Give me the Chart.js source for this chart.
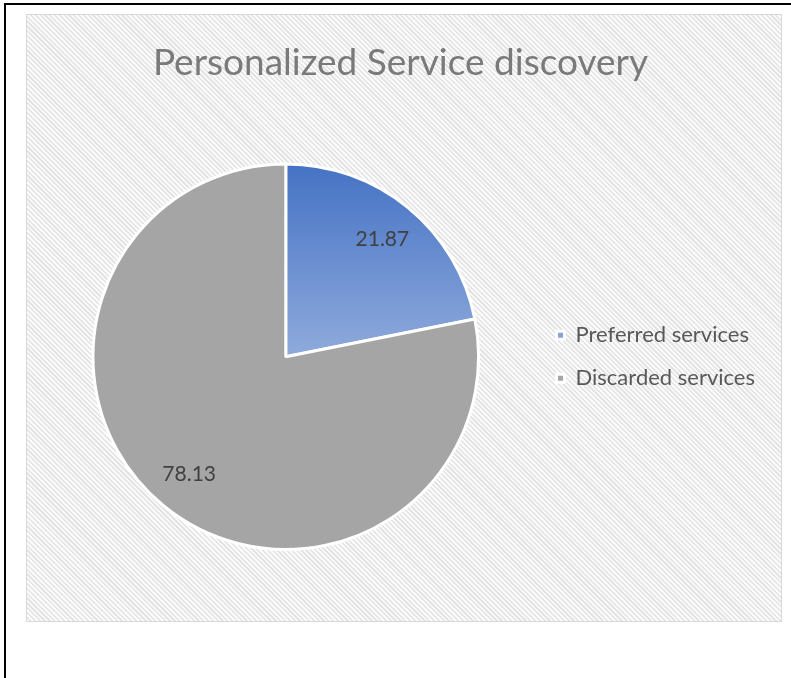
<!DOCTYPE html>
<html>
<head>
<meta charset="utf-8">
<script src="https://cdn.jsdelivr.net/npm/chart.js@4/dist/chart.umd.min.js"></script>
<style>
  html, body { margin: 0; padding: 0; background: #fff; }
  body { width: 791px; height: 678px; position: relative; overflow: hidden; }
  #frame {
    position: absolute; left: 4px; top: 3px; right: -10px; bottom: -10px;
    border-left: 2px solid #000; border-top: 2px solid #000;
  }
  #box {
    position: absolute; left: 26px; top: 14px; width: 756px; height: 608px;
    box-sizing: border-box; border: 1px solid #d9d9d9;
    background: repeating-linear-gradient(45deg, #fbfbfb 0px, #fbfbfb 1.8px, #e4e4e4 1.8px, #e4e4e4 3.4px);
  }
</style>
</head>
<body>
<div id="frame"></div>
<div id="box"><canvas id="pie"></canvas></div>
<script>
const categories = ['Preferred services', 'Discarded services'];
const shares = [21.87, 78.13];
const chartTitle = 'Personalized Service discovery';

const FONT = 'Lato, "Liberation Sans", sans-serif';

// blue slice fades from dark at the rim to light at the centre
function sliceFill(c) {
  if (c.dataIndex !== 0) return '#a5a5a5';
  const area = c.chart.chartArea;
  if (!area) return '#4472c4';
  const cy = (area.top + area.bottom) / 2;
  const r = Math.min(area.right - area.left, area.bottom - area.top) / 2;
  const g = c.chart.ctx.createLinearGradient(0, cy - r, 0, cy);
  g.addColorStop(0, '#4472c4');
  g.addColorStop(1, '#8faadc');
  return g;
}

// value text inside each slice
const sliceLabels = {
  id: 'sliceLabels',
  afterDatasetsDraw(chart) {
    const ctx = chart.ctx;
    const meta = chart.getDatasetMeta(0);
    ctx.save();
    ctx.font = '21px ' + FONT;
    ctx.fillStyle = '#404040';
    ctx.textAlign = 'center';
    ctx.textBaseline = 'middle';
    meta.data.forEach((arc, i) => {
      const p = arc.getProps(['x', 'y', 'startAngle', 'endAngle', 'outerRadius'], true);
      const mid = (p.startAngle + p.endAngle) / 2;
      const r = p.outerRadius * 0.79;
      ctx.fillText(String(shares[i]), p.x + Math.cos(mid) * r, p.y + Math.sin(mid) * r);
    });
    ctx.restore();
  }
};

new Chart(document.getElementById('pie'), {
  type: 'pie',
  data: {
    labels: categories,
    datasets: [{
      data: shares,
      backgroundColor: sliceFill,
      borderColor: '#ffffff',
      borderWidth: 3
    }]
  },
  options: {
    responsive: true,
    maintainAspectRatio: false,
    animation: false,
    layout: { padding: { left: 9, right: 16, top: 0, bottom: 70 } },
    plugins: {
      tooltip: { enabled: false },
      title: {
        display: true,
        text: chartTitle,
        color: '#7a7a7a',
        font: { family: FONT, size: 37, weight: 'normal' },
        padding: { top: 26, bottom: 77 }
      },
      legend: {
        position: 'right',
        fullSize: false,
        labels: {
          color: '#595959',
          font: { family: FONT, size: 22 },
          boxWidth: 8,
          boxHeight: 8,
          padding: 21
        }
      }
    }
  },
  plugins: [sliceLabels]
});
</script>
</body>
</html>
